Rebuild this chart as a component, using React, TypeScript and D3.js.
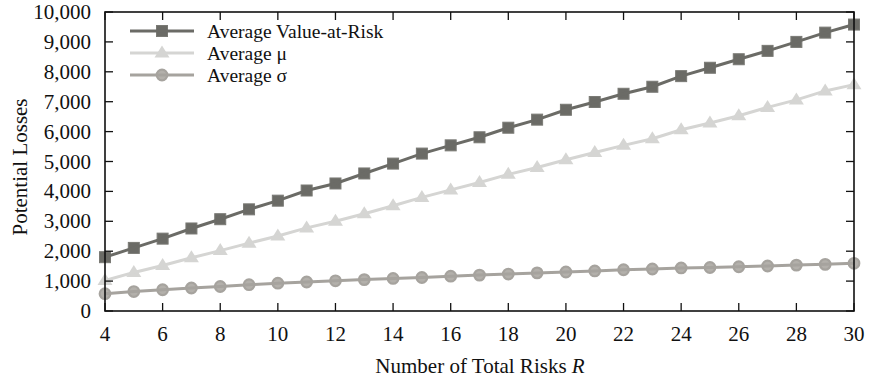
import React from "react";
import * as d3 from "d3";

const risks = [4,5,6,7,8,9,10,11,12,13,14,15,16,17,18,19,20,21,22,23,24,25,26,27,28,29,30];
const varValues = [1800,2110,2420,2760,3070,3400,3690,4030,4265,4600,4930,5265,5540,5810,6130,6400,6730,6990,7265,7500,7855,8135,8420,8700,9000,9310,9580];
const muValues = [1020,1290,1520,1780,2020,2270,2510,2780,3000,3250,3520,3800,4050,4300,4570,4800,5060,5300,5540,5760,6060,6290,6530,6810,7060,7360,7570];
const sigmaValues = [580,650,710,770,820,880,930,970,1010,1050,1090,1120,1165,1200,1235,1275,1305,1340,1380,1405,1440,1455,1480,1505,1535,1560,1595];
const xTicks = [4,6,8,10,12,14,16,18,20,22,24,26,28,30];
const yTicks = [0,1000,2000,3000,4000,5000,6000,7000,8000,9000,10000];
const seriesNames = ["Average Value-at-Risk", "Average \u03bc", "Average \u03c3"];
const seriesColors = ["#6b6b66", "#d5d5d3", "#a6a39e"];
const xTitle = "Number of Total Risks ";
const yTitle = "Potential Losses";

const W = 873, H = 381;
const L = 105, R = 854, T = 12, B = 311;
const FONT = "'Liberation Serif', 'Times New Roman', serif";
const FS = 21;

function Marker({ kind, x, y, color }: { kind: number; x: number; y: number; color: string }) {
  if (kind === 0) {
    return <rect x={x - 5.5} y={y - 5.5} width={11} height={11} fill={color} stroke="#7a7a75" strokeWidth={1} />;
  }
  if (kind === 1) {
    const s = 7.5;
    return <path d={`M${x},${y - s} L${x + s},${y + s * 0.6} L${x - s},${y + s * 0.6} Z`} fill={color} />;
  }
  return <circle cx={x} cy={y} r={5.3} fill="#b3b0ab" stroke={color} strokeWidth={2.2} />;
}

function SText({ x, y, anchor, children, size = FS }: any) {
  return (
    <text x={x} y={y} textAnchor={anchor} fontFamily={FONT} fontSize={size} fill="#111">{children}</text>
  );
}

export default function App() {
  const x = d3.scaleLinear().domain([4, 30]).range([L, R]);
  const y = d3.scaleLinear().domain([0, 10000]).range([B, T]);
  const all = [varValues, muValues, sigmaValues];
  const line = d3.line<number>().x((_, i) => x(risks[i])).y((d) => y(d));
  const fmt = d3.format(",");
  const tick = 8;

  const legendY = [31, 53, 75];

  return (
    <svg width={W} height={H} style={{ position: "absolute", left: 0, top: 0, background: "#fff" }}>
      <rect width={W} height={H} fill="#fff" />
      {all.map((vals, si) => (
        <g key={si}>
          {vals.map((v, i) => (
            <Marker key={i} kind={si} x={x(risks[i])} y={y(v)} color={seriesColors[si]} />
          ))}
          <path d={line(vals) || ""} fill="none" stroke={seriesColors[si]} strokeWidth={3} />
        </g>
      ))}
      <rect x={L} y={T} width={R - L} height={B - T} fill="none" stroke="#111" strokeWidth={1.6} />
      {xTicks.map((t) => (
        <g key={"x" + t}>
          <line x1={x(t)} x2={x(t)} y1={B} y2={B - tick} stroke="#111" strokeWidth={1.3} />
          <line x1={x(t)} x2={x(t)} y1={T} y2={T + tick} stroke="#111" strokeWidth={1.3} />
          <SText x={x(t)} y={341} anchor="middle">{t}</SText>
        </g>
      ))}
      {yTicks.map((t) => (
        <g key={"y" + t}>
          <line x1={L} x2={L + tick} y1={y(t)} y2={y(t)} stroke="#111" strokeWidth={1.3} />
          <line x1={R} x2={R - tick} y1={y(t)} y2={y(t)} stroke="#111" strokeWidth={1.3} />
          <SText x={91} y={y(t) + 7} anchor="end">{fmt(t)}</SText>
        </g>
      ))}
      {seriesNames.map((n, i) => (
        <g key={"l" + i}>
          <Marker kind={i} x={162} y={legendY[i]} color={seriesColors[i]} />
          <line x1={130} x2={194} y1={legendY[i]} y2={legendY[i]} stroke={seriesColors[i]} strokeWidth={3} />
          <SText x={207} y={legendY[i] + 6.5} anchor="start" size={19.5}>{n}</SText>
        </g>
      ))}
      <SText x={480} y={373} anchor="middle">
        {xTitle}<tspan fontStyle="italic">R</tspan>
      </SText>
      <g transform={`translate(27,167) rotate(-90)`}>
        <text x={0} y={0} textAnchor="middle" fontFamily={FONT} fontSize={FS} fill="#111">{yTitle}</text>
      </g>
    </svg>
  );
}
